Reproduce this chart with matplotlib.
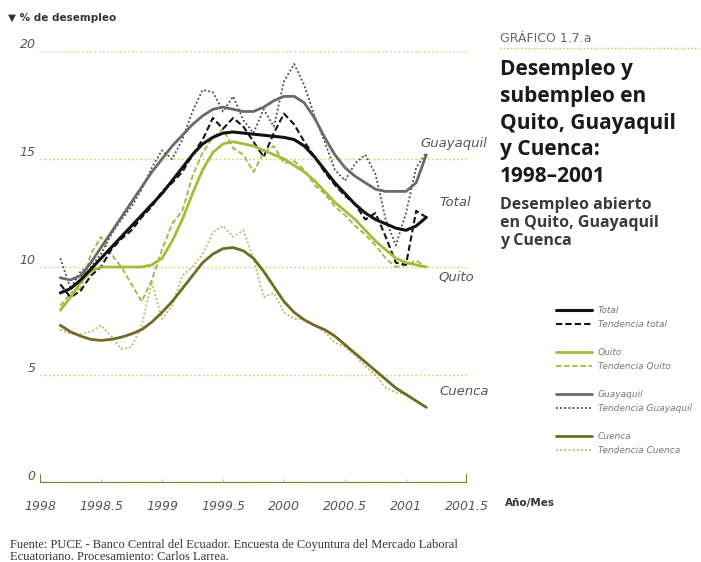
"""
Desempleo Quito, Guayaquil y Cuenca 1998-2001
"""
import matplotlib
matplotlib.use('Agg')
import matplotlib.pyplot as plt
from matplotlib.lines import Line2D

# meses: marzo 1998 a marzo 2001
years = [1998 + (i + 2) / 12 for i in range(37)]

total = [9.2, 8.6, 8.9, 9.6, 10.0, 10.8, 11.3, 11.7, 12.3, 12.8, 13.5, 13.9, 14.4, 15.2, 15.9, 16.9,
         16.4, 16.9, 16.5, 15.8, 15.1, 16.2, 17.1, 16.6, 15.8, 15.1, 14.4, 13.8, 13.3, 12.9, 12.2, 12.5,
         11.4, 10.2, 10.1, 12.6, 12.3]
total_tr = [8.8, 9.0, 9.4, 9.9, 10.4, 10.9, 11.4, 11.9, 12.4, 12.9, 13.4, 14.0, 14.6, 15.2, 15.7, 16.0,
            16.2, 16.25, 16.2, 16.15, 16.1, 16.05, 16.0, 15.9, 15.6, 15.1, 14.5, 13.9, 13.4, 12.9, 12.5,
            12.2, 12.0, 11.8, 11.7, 11.9, 12.3]
quito = [8.2, 8.8, 9.0, 10.6, 11.4, 10.6, 10.0, 9.2, 8.4, 9.4, 10.8, 12.0, 12.6, 14.2, 15.3, 16.0,
         16.4, 15.5, 15.2, 14.4, 15.3, 15.6, 14.8, 14.9, 14.5, 13.8, 13.4, 12.8, 12.4, 11.9, 11.5, 11.0,
         10.4, 10.0, 10.1, 10.3, 10.0]
quito_tr = [8.0, 8.6, 9.3, 9.8, 10.0, 10.0, 10.0, 10.0, 10.0, 10.1, 10.4, 11.2, 12.2, 13.4, 14.5, 15.3,
            15.7, 15.8, 15.7, 15.6, 15.4, 15.2, 15.0, 14.7, 14.4, 14.0, 13.5, 13.0, 12.6, 12.2, 11.7,
            11.2, 10.8, 10.4, 10.2, 10.1, 10.0]
guayaquil = [10.4, 9.0, 9.8, 10.0, 10.6, 11.5, 12.2, 12.8, 13.6, 14.6, 15.4, 15.0, 15.9, 17.2, 18.2, 18.1,
             17.2, 17.9, 16.8, 16.2, 17.3, 16.5, 18.6, 19.4, 18.4, 17.0, 15.8, 14.5, 14.0, 14.8, 15.2,
             14.3, 12.2, 11.0, 12.5, 14.6, 15.3]
guayaquil_tr = [9.5, 9.4, 9.6, 10.2, 10.9, 11.6, 12.3, 13.0, 13.7, 14.4, 15.0, 15.6, 16.1, 16.6, 17.0, 17.3,
                17.4, 17.3, 17.2, 17.2, 17.4, 17.7, 17.9, 17.9, 17.6, 16.9, 16.0, 15.2, 14.6, 14.2, 13.9,
                13.6, 13.5, 13.5, 13.5, 13.9, 15.2]
cuenca = [7.1, 6.9, 6.9, 7.0, 7.3, 6.8, 6.2, 6.3, 7.3, 9.3, 7.6, 8.2, 9.6, 10.0, 10.6, 11.6,
          11.9, 11.4, 11.7, 10.4, 8.6, 8.8, 7.9, 7.6, 7.6, 7.3, 7.0, 6.5, 6.3, 5.9, 5.4, 5.0,
          4.4, 4.2, 4.1, 3.8, 3.5]
cuenca_tr = [7.3, 7.0, 6.8, 6.65, 6.6, 6.65, 6.75, 6.9, 7.1, 7.45, 7.9, 8.4, 9.0, 9.6, 10.2, 10.6,
             10.85, 10.9, 10.75, 10.4, 9.8, 9.1, 8.4, 7.9, 7.55, 7.3, 7.1, 6.8, 6.4, 6.0, 5.6, 5.2,
             4.8, 4.4, 4.1, 3.8, 3.5]

x_ticks = [1998, 1998.5, 1999, 1999.5, 2000, 2000.5, 2001, 2001.5]
x_labels = ['1998', '1998.5', '1999', '1999.5', '2000', '2000.5', '2001', '2001.5']
y_ticks = [0, 5, 10, 15, 20]

GRID = '#c4cc45'
TXT = '#555555'
NARROW = 'Liberation Sans Narrow'

fig = plt.figure(figsize=(7.01, 5.62), dpi=100)
ax = fig.add_axes([40 / 701, 79 / 562, 427 / 701, 432 / 562])
ax.set_xlim(1998, 2001.5)
ax.set_ylim(0, 20)

for s in ['top', 'right', 'left', 'bottom']:
    ax.spines[s].set_visible(False)

# líneas guía
for v in y_ticks[1:]:
    ax.axhline(v, color=GRID, linewidth=1.0, linestyle=(0, (1, 2)), zorder=1)
ax.axhline(0, color='#7d7a2a', linewidth=1.6, zorder=2)
ax.axhline(0, color='#e3e36a', linewidth=0.8, linestyle=(0, (1, 2)), zorder=3)
for v in x_ticks:
    ax.plot([v, v], [0, 0.25], color='#9a9a50', linewidth=0.8, linestyle=(0, (1, 1)), zorder=2)
ax.plot([1998, 1998], [-0.2, 0.35], color='#7d7a2a', linewidth=1.4, zorder=3)
ax.plot([2001.5, 2001.5], [-0.2, 0.35], color='#7d7a2a', linewidth=1.4, zorder=3)

ax.set_xticks(x_ticks)
ax.set_xticklabels(x_labels)
ax.set_yticks(y_ticks)
ax.tick_params(length=0, labelsize=9, labelcolor=TXT, pad=12)
ax.tick_params(axis='y', pad=3)
for lab in ax.get_xticklabels() + ax.get_yticklabels():
    lab.set_fontstyle('italic')
    lab.set_fontfamily(NARROW)
for lab in ax.get_yticklabels():
    lab.set_verticalalignment('bottom')

# series
styles = [
    (cuenca, cuenca_tr, '#6f6b25', '#b8b65a', (0, (1, 1.3)), 'Cuenca'),
    (quito, quito_tr, '#a9b83a', '#8fbf3a', (0, (3, 1.5)), 'Quito'),
    (guayaquil, guayaquil_tr, '#6a6a66', '#4a4a38', (0, (1, 1.3)), 'Guayaquil'),
    (total, total_tr, '#111111', '#111111', (0, (3, 1.5)), 'Total'),
]
handles = {}
for raw, tr, c_solid, c_dash, ls, name in styles:
    h1, = ax.plot(years, tr, color=c_solid, linewidth=2.2 if name == 'Total' else 2.0,
                  solid_capstyle='round', zorder=5)
    h2, = ax.plot(years, raw, color=c_dash, linewidth=1.5 if name == 'Total' else 1.3,
                  linestyle=ls, zorder=4)
    handles[name] = (h1, h2)

# etiquetas de series
lab_kw = dict(fontsize=9.5, style='italic', color=TXT, family=NARROW)
ax.text(2001.12, guayaquil_tr[-1] + 0.5, 'Guayaquil', ha='left', va='center', **lab_kw)
ax.text(2001.27, total_tr[-1] + 0.7, 'Total', ha='left', va='center', **lab_kw)
ax.text(2001.27, quito_tr[-1] - 0.45, 'Quito', ha='left', va='center', **lab_kw)
ax.text(2001.27, cuenca_tr[-1] + 0.75, 'Cuenca', ha='left', va='center', **lab_kw)

# leyenda
blank = Line2D([], [], color='none')
leg_handles = [handles['Total'][0], handles['Total'][1], blank,
               handles['Quito'][0], handles['Quito'][1], blank,
               handles['Guayaquil'][0], handles['Guayaquil'][1], blank,
               handles['Cuenca'][0], handles['Cuenca'][1]]
leg_labels = ['Total', 'Tendencia total', '',
              'Quito', 'Tendencia Quito', '',
              'Guayaquil', 'Tendencia Guayaquil', '',
              'Cuenca', 'Tendencia Cuenca']
fig.legend(leg_handles, leg_labels, loc='upper left', bbox_to_anchor=(548 / 701, 1 - 298 / 562),
           frameon=False, labelspacing=0.55, handlelength=4.0, handletextpad=0.6,
           labelcolor='#777777', prop={'family': NARROW, 'style': 'italic', 'size': 6.5})

# textos
fig.text(8 / 701, 1 - 18 / 562, '▼ % de desempleo', fontsize=7.5, fontweight='bold', color='#333333',
         va='center', ha='left')
fig.text(505 / 701, 1 - 503 / 562, 'Año/Mes', fontsize=7.5, fontweight='bold', color='#333333',
         va='center', ha='left')
fig.text(500 / 701, 1 - 38 / 562, 'GRÁFICO 1.7.a', fontsize=9, color='#666666', va='center', ha='left',
         family=NARROW)
fig.add_artist(Line2D([500 / 701, 1.0], [1 - 48 / 562, 1 - 48 / 562], color=GRID, linewidth=1,
                      linestyle=(0, (1, 1.5))))
fig.text(500 / 701, 1 - 59 / 562, 'Desempleo y\nsubempleo en\nQuito, Guayaquil\ny Cuenca:\n1998–2001',
         fontsize=15, fontweight='bold', color='#1a1a1a', va='top', ha='left', linespacing=1.36,
         family='Open Sans')
fig.text(500 / 701, 1 - 197 / 562, 'Desempleo abierto\nen Quito, Guayaquil\ny Cuenca',
         fontsize=11.5, fontweight='bold', color='#3a3a3a', va='top', ha='left', linespacing=1.18,
         family='Open Sans')
fig.text(10 / 701, 1 - 539 / 562,
         'Fuente: PUCE - Banco Central del Ecuador. Encuesta de Coyuntura del Mercado Laboral\n'
         'Ecuatoriano. Procesamiento: Carlos Larrea.',
         fontsize=9, color='#333333', va='top', ha='left', linespacing=1.0,
         family='Liberation Serif')

plt.savefig('out.png', dpi=100)
plt.close()
